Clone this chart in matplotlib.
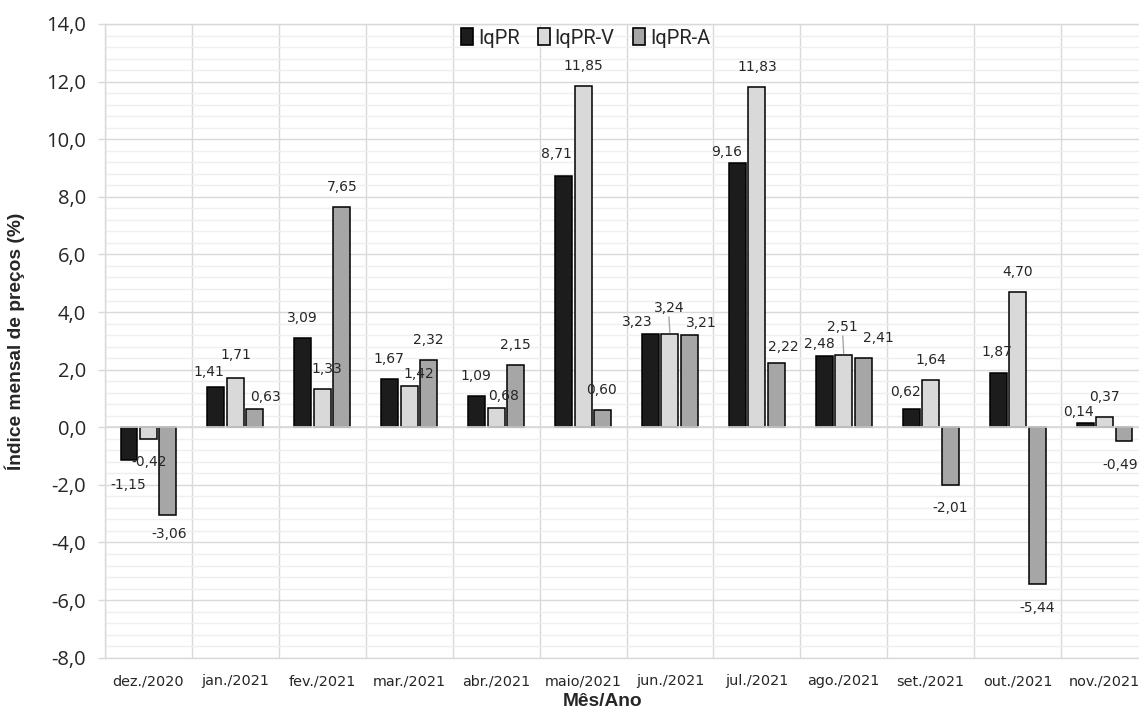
import matplotlib
matplotlib.use("Agg")
import matplotlib.pyplot as plt
from matplotlib.ticker import MultipleLocator, FuncFormatter
from matplotlib.patches import Patch
import numpy as np

# ---------------- data ----------------
months = ["dez./2020", "jan./2021", "fev./2021", "mar./2021", "abr./2021", "maio/2021",
          "jun./2021", "jul./2021", "ago./2021", "set./2021", "out./2021", "nov./2021"]
series_names = ["IqPR", "IqPR-V", "IqPR-A"]
iqpr   = [-1.15, 1.41, 3.09, 1.67, 1.09, 8.71, 3.23, 9.16, 2.48, 0.62, 1.87, 0.14]
iqpr_v = [-0.42, 1.71, 1.33, 1.42, 0.68, 11.85, 3.24, 11.83, 2.51, 1.64, 4.70, 0.37]
iqpr_a = [-3.06, 0.63, 7.65, 2.32, 2.15, 0.60, 3.21, 2.22, 2.41, -2.01, -5.44, -0.49]

# ---------------- label placement (pixel offsets from bar end) ----------------
off_iqpr   = [(-1, -25), (-7, 15), (-1, 20), (-1, 20), (-1, 20), (-7, 22),
              (-13, 12), (-11, 11), (-5, 12), (-6, 17), (-1, 21), (-7, 11)]
off_iqpr_v = [(1, -23), (0, 23), (5, 20), (10, 12), (7, 12), (0, 20),
              (-1, 26), (0, 20), (-1, 28), (0, 20), (0, 20), (0, 20)]
off_iqpr_a = [(1, -19), (11, 12), (0, 20), (0, 20), (0, 20), (-1, 20),
              (12, 12), (7, 16), (15, 20), (0, -23), (0, -24), (-4, -24)]
leader_v = [False, False, False, False, False, False, True, False, True, False, False, False]

colors = ["#1c1c1c", "#d9d9d9", "#a6a6a6"]
grid_major = "#d9d9d9"
grid_minor = "#efefef"
txt = "#262626"

W, H = 1139, 711
fig = plt.figure(figsize=(W / 100, H / 100), dpi=100)
ax = fig.add_axes([105 / W, 1 - 657.7 / H, (1148 - 105) / W, (657.7 - 24) / H])

x = np.arange(len(months))
bw = 0.195
step = 0.224
all_series = [iqpr, iqpr_v, iqpr_a]
all_offs = [off_iqpr, off_iqpr_v, off_iqpr_a]

for k, (vals, col) in enumerate(zip(all_series, colors)):
    xs = x + (k - 1) * step
    ax.bar(xs, vals, width=bw, color=col, edgecolor="black", linewidth=1.1, zorder=3)
    for i, (xi, v) in enumerate(zip(xs, vals)):
        dx, dy = all_offs[k][i]
        lab = f"{v:.2f}".replace(".", ",")
        ax.annotate(lab, xy=(xi, v), xytext=(dx, dy), textcoords="offset pixels",
                    ha="center", va="center", fontsize=10, color=txt,
                    family="DejaVu Sans", zorder=5, annotation_clip=False)
        if k == 1 and leader_v[i]:
            ax.annotate("", xy=(xi, v), xytext=(dx, dy - 9), textcoords="offset pixels",
                        arrowprops=dict(arrowstyle="-", color="#a6a6a6", lw=1.0,
                                        shrinkA=0, shrinkB=1), zorder=4)

# zero line over bar bottoms
ax.axhline(0, color=grid_major, lw=1.2, zorder=4)

# axes limits / grid
ax.set_xlim(-0.5, len(months) - 0.5)
ax.set_ylim(-8, 14)
ax.yaxis.set_major_locator(MultipleLocator(2))
ax.yaxis.set_minor_locator(MultipleLocator(0.4))
ax.yaxis.set_major_formatter(FuncFormatter(lambda v, p: f"{v:.1f}".replace(".", ",")))
ax.grid(axis="y", which="major", color=grid_major, lw=1.0, zorder=1)
ax.grid(axis="y", which="minor", color=grid_minor, lw=1.0, zorder=0)
for b in np.arange(-0.5, len(months), 1.0):
    ax.axvline(b, color=grid_major, lw=1.0, zorder=1)

for s in ["top", "right", "left", "bottom"]:
    ax.spines[s].set_color(grid_major)
    ax.spines[s].set_linewidth(1.0)

ax.set_xticks(x)
ax.set_xticklabels(months, family="DejaVu Sans", fontsize=10.4, color=txt)
ax.tick_params(axis="x", length=0, pad=12)
ax.tick_params(axis="y", which="major", direction="out", length=5, color=grid_major,
               width=1.0, pad=8.5, labelsize=14.5, labelcolor=txt)
ax.tick_params(axis="y", which="minor", length=0)
for t in ax.get_yticklabels():
    t.set_family("Open Sans")

# axis titles
fig.text(15 / W, 1 - 341 / H, "Índice mensal de preços (%)", rotation=90,
         ha="center", va="center", fontsize=13.8, fontweight="bold",
         family="Liberation Sans", color=txt)
fig.text(603 / W, 1 - 702 / H, "Mês/Ano", ha="center", va="center", fontsize=13.8,
         fontweight="bold", family="Liberation Sans", color=txt)

# legend
handles = [Patch(facecolor=c, edgecolor="black", linewidth=1.2) for c in colors]
leg = fig.legend(handles, series_names, loc="center", ncol=3,
                 bbox_to_anchor=(585.5 / W, 1 - 38 / H), bbox_transform=fig.transFigure,
                 frameon=False, handlelength=0.6, handleheight=0.85, handletextpad=0.25,
                 columnspacing=0.9, borderpad=0.2,
                 prop={"family": "Roboto", "size": 14.5})
for t in leg.get_texts():
    t.set_color(txt)

fig.savefig("out.png", dpi=100)
